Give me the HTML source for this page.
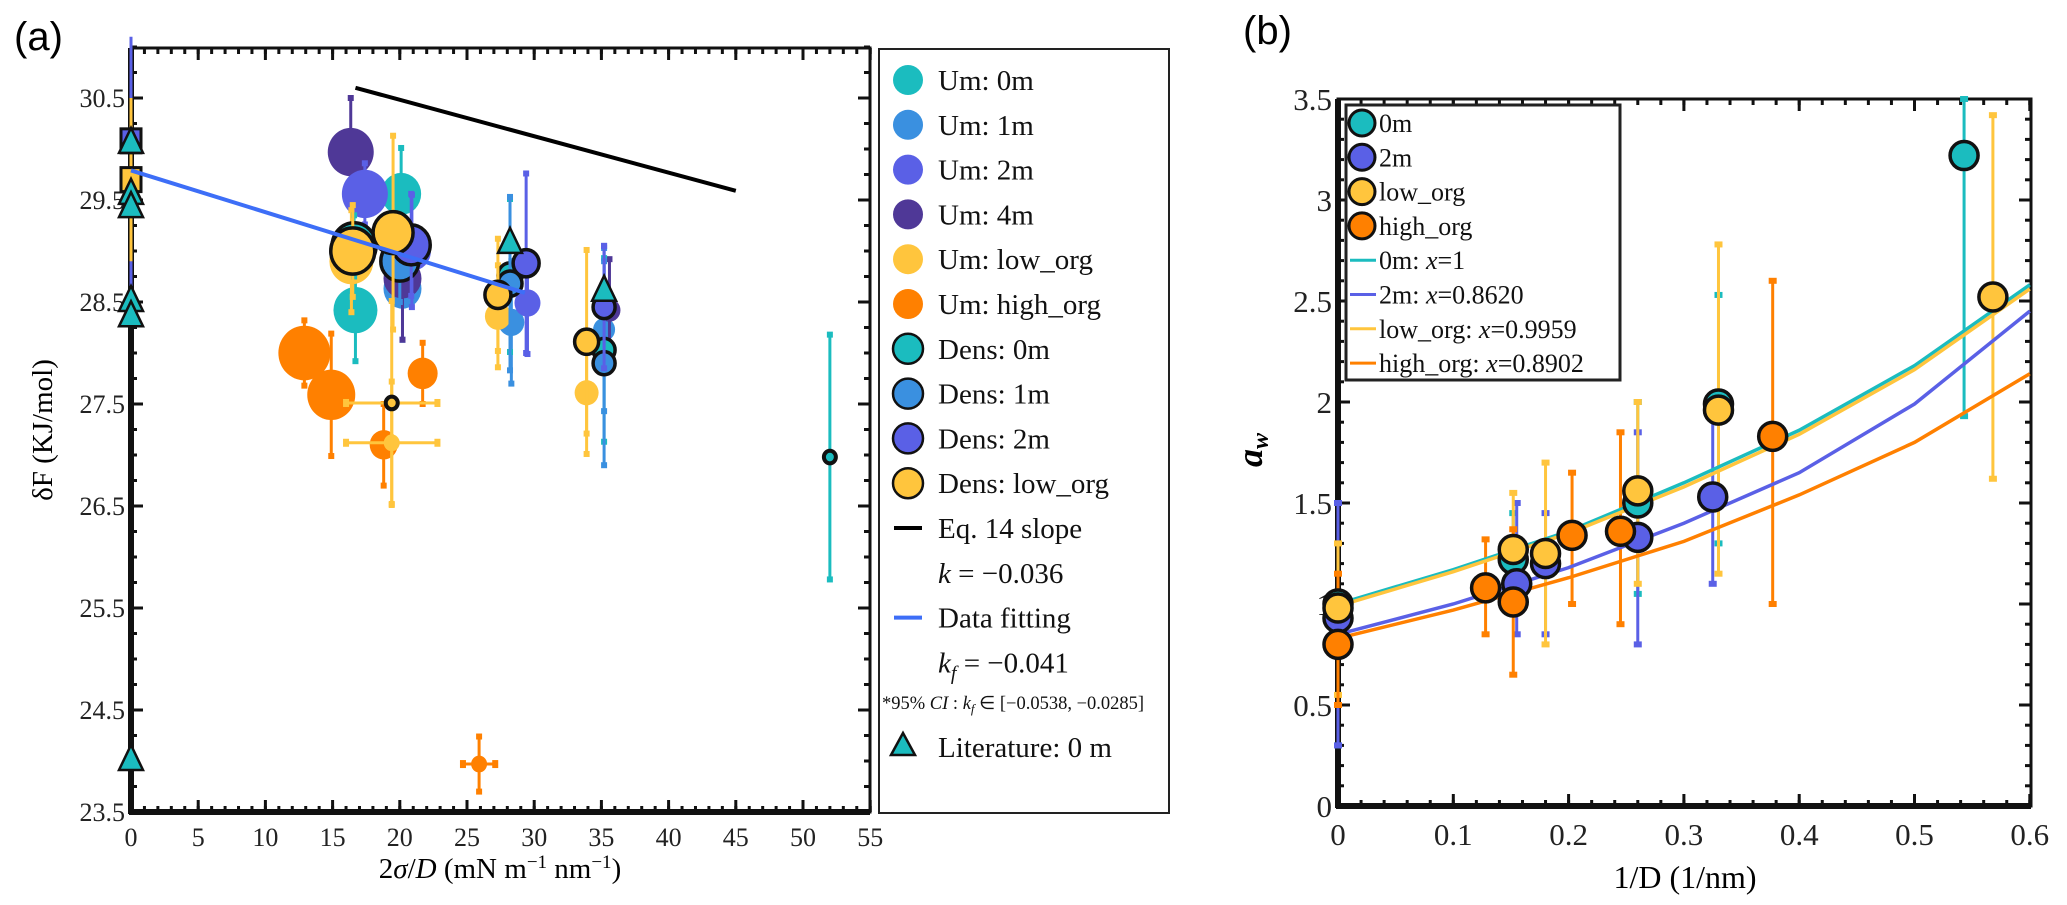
<!DOCTYPE html>
<html><head><meta charset="utf-8"><style>
html,body{margin:0;padding:0;background:#fff;}
svg{display:block;font-family:"Liberation Serif",serif;}
</style></head><body>
<svg id="fig" width="2067" height="905" viewBox="0 0 2067 905" xmlns="http://www.w3.org/2000/svg">
<text x="14" y="50" font-family="Liberation Sans, sans-serif" font-size="40">(a)</text>
<text x="1243" y="44" font-family="Liberation Sans, sans-serif" font-size="40">(b)</text>
<g id="pa"></g>
<g id="pb"></g>
<text x="500" y="878" font-size="29" text-anchor="middle">2<tspan font-style="italic">σ</tspan>/<tspan font-style="italic">D</tspan> (mN m<tspan baseline-shift="super" font-size="19">−1</tspan> nm<tspan baseline-shift="super" font-size="19">−1</tspan>)</text>
<text transform="translate(52,430) rotate(-90)" font-size="29" text-anchor="middle">δF (KJ/mol)</text>
<text x="1685" y="888" font-size="32" text-anchor="middle">1/D (1/nm)</text>
<text transform="translate(1262,450) rotate(-90)" font-size="36" font-weight="bold" font-style="italic" text-anchor="middle">a<tspan font-size="24" dy="6">w</tspan></text>
<g id="lega"></g>
<g id="legb"></g>
</svg>
<script>
// ---------- Panel (a) data ----------
const aXTicks=[0,5,10,15,20,25,30,35,40,45,50,55];
const aYTicks=[23.5,24.5,25.5,26.5,27.5,28.5,29.5,30.5];
const um0mX=[20.1,16.7], um0mY=[29.56,28.42], um0mE=[0.45,0.5];
const um1mX=[20.2,28.3,35.2], um1mY=[28.63,28.3,28.23], um1mE=[0.5,0.6,0.8];
const um2mX=[17.4,20.9,29.5,35.2], um2mY=[29.56,29.0,28.49,28.45], um2mE=[0.3,0.55,0.5,0.6];
const um4mX=[16.35,20.2,35.6], um4mY=[29.97,28.73,28.42], um4mE=[0.53,0.6,0.5];
const umLowX=[16.4,19.4,27.3,33.9], umLowY=[28.9,27.12,28.36,27.61], umLowE=[0.5,0.6,0.5,0.6], umLowXE=[0,3.4,0,0];
const umHighX=[12.9,14.9,21.7,18.8,25.9], umHighY=[28.0,27.59,27.8,27.1,23.97], umHighE=[0.32,0.6,0.3,0.4,0.27], umHighXE=[0,0,0,0,1.2];
const d0mX=[16.6,28.2,35.2,52], d0mY=[29.05,28.76,28.03,26.98], d0mE=[0.3,0.75,0.9,1.2];
const d1mX=[20.0,28.2,35.2], d1mY=[28.9,28.68,27.9], d1mE=[0.4,0.85,1.0];
const d2mX=[20.85,29.4,35.2], d2mY=[29.06,28.88,28.45], d2mE=[0.5,0.88,0.6];
const dLowX=[16.5,19.5,27.3,33.9,19.4], dLowY=[29.0,29.18,28.57,28.11,27.51], dLowE=[0.45,0.95,0.55,0.9,1.0], dLowXE=[0,0,0,0,3.4];
const litX=[0,0,0,0,0,0,28.2,35.2], litY=[30.05,29.55,29.42,28.5,28.35,24.0,29.07,28.6];
const eqLineX=[16.7,45], eqLineY=[30.6,29.59];
const fitLineX=[0,29.3], fitLineY=[29.79,28.59];
// ---------- Panel (b) data ----------
const bXTicks=[0,0.1,0.2,0.3,0.4,0.5,0.6];
const bYTicks=[0,0.5,1,1.5,2,2.5,3,3.5];
const b0mX=[0,0.152,0.26,0.33,0.543], b0mY=[1.0,1.22,1.5,1.99,3.22], b0mLo=[0.3,1.0,1.05,1.3,1.93], b0mHi=[1.5,1.45,2.0,2.53,3.6];
const b2mX=[0,0.155,0.18,0.26,0.325], b2mY=[0.93,1.1,1.2,1.33,1.53], b2mLo=[0.3,0.85,0.85,0.8,1.1], b2mHi=[1.5,1.5,1.45,1.85,2.0];
const bLowX=[0,0.152,0.18,0.26,0.33,0.568], bLowY=[0.98,1.27,1.25,1.56,1.96,2.52], bLowLo=[0.55,0.95,0.8,1.1,1.15,1.62], bLowHi=[1.3,1.55,1.7,2.0,2.78,3.42];
const bHighX=[0,0.128,0.152,0.203,0.245,0.377], bHighY=[0.8,1.08,1.01,1.34,1.36,1.83], bHighLo=[0.5,0.85,0.65,1.0,0.9,1.0], bHighHi=[1.15,1.32,1.37,1.65,1.85,2.6];
const curveX=[0,0.1,0.2,0.3,0.4,0.5,0.6];
const c0m=[1.0,1.17,1.36,1.6,1.86,2.18,2.58];
const c2m=[0.85,1.0,1.18,1.4,1.65,1.99,2.45];
const cLow=[0.99,1.16,1.35,1.58,1.84,2.16,2.56];
const cHigh=[0.83,0.97,1.13,1.31,1.54,1.8,2.14];

const C={c0:'#1BBCBF',c1:'#3A90E0',c2:'#5A60E6',c4:'#4F3897',low:'#FFC53D',high:'#FF8000',fit:'#3D6EF7'};
const NS='http://www.w3.org/2000/svg';
function mk(tag,attrs,parent){const e=document.createElementNS(NS,tag);for(const k in attrs)e.setAttribute(k,attrs[k]);parent.appendChild(e);return e;}

// axes
const ax=v=>131+13.44*v, ay=v=>812-102*(v-23.5);
const bx=v=>1338+1153*v, by=v=>806-202*v;
const pa=document.getElementById('pa'), pb=document.getElementById('pb');

function frame(g,L,T,R,B,xt,yt,xminor,yminor,X,Y,fs,fmtx,fmty,nm){
  // minor ticks
  xminor.forEach(v=>{const p=X(v);
    let t=mk('line',{x1:p,y1:B,x2:p,y2:B-6,stroke:'#111','stroke-width':3},g);
    
    
    let t2=mk('line',{x1:p,y1:T,x2:p,y2:T+6,stroke:'#111','stroke-width':3},g);
    
    });
  yminor.forEach(v=>{const p=Y(v);
    let t=mk('line',{x1:L,y1:p,x2:L+6,y2:p,stroke:'#111','stroke-width':3},g);
    
    
    let t2=mk('line',{x1:R,y1:p,x2:R-6,y2:p,stroke:'#111','stroke-width':3},g);
    
    });
  xt.forEach(v=>{const p=X(v);
    let t=mk('line',{x1:p,y1:B,x2:p,y2:B-12,stroke:'#111','stroke-width':3},g);
    
    
    let t2=mk('line',{x1:p,y1:T,x2:p,y2:T+12,stroke:'#111','stroke-width':3},g);
    
    
    let l=mk('text',{x:p,y:B+fs+8,'font-size':fs,'text-anchor':'middle',fill:'#222'},g);l.textContent=fmtx(v);
    
    });
  yt.forEach(v=>{const p=Y(v);
    let t=mk('line',{x1:L,y1:p,x2:L+12,y2:p,stroke:'#111','stroke-width':3},g);
    
    
    let t2=mk('line',{x1:R,y1:p,x2:R-12,y2:p,stroke:'#111','stroke-width':3},g);
    
    
    let l=mk('text',{x:L-6,y:p+fs*0.35,'font-size':fs,'text-anchor':'end',fill:'#222'},g);l.textContent=fmty(v);
    
    });
  let f=mk('rect',{x:L,y:T,width:R-L,height:B-T,fill:'none',stroke:'#111','stroke-width':3},g);
  
  
  let la=mk('line',{x1:L,y1:T,x2:L,y2:B+2,stroke:'#111','stroke-width':6},g);
  
  
  let ba=mk('line',{x1:L-2,y1:B,x2:R,y2:B,stroke:'#111','stroke-width':6},g);
  
  
}
const range=(a,b,s)=>{const r=[];for(let v=a;v<=b+1e-9;v+=s)r.push(+v.toFixed(4));return r;};

// ---- Panel a ----
frame(pa,131,48,870,812,aXTicks,aYTicks,range(0,55,1),range(23.5,31,0.25),ax,ay,26,v=>String(v),v=>v.toFixed(1),'a');

const pag=mk('g',{},pa);


// vertical error bars at x=0 (behind)
let eb0=mk('line',{x1:ax(0),y1:ay(31.1),x2:ax(0),y2:ay(28.4),stroke:C.c2,'stroke-width':3},pag);


let eb1=mk('line',{x1:ax(0),y1:ay(30.5),x2:ax(0),y2:ay(28.9),stroke:C.low,'stroke-width':3},pag);


let sq1=mk('rect',{x:ax(0)-10,y:ay(30.08)-12,width:20,height:24,fill:C.c2,stroke:'#111','stroke-width':3},pag);


let sq2=mk('rect',{x:ax(0)-10,y:ay(29.7)-12,width:20,height:24,fill:C.low,stroke:'#111','stroke-width':3},pag);



function seriesA(name,xs,ys,es,xes,col,outline,sizes){
  xs.forEach((x,i)=>{
    const cx=ax(x), cy=ay(ys[i]);
    if(es&&es[i]){
      let e=mk('line',{x1:cx,y1:ay(ys[i]+es[i]),x2:cx,y2:ay(ys[i]-es[i]),stroke:col,'stroke-width':3},pag);
      
      
      [ys[i]+es[i],ys[i]-es[i]].forEach(v=>{let c=mk('rect',{x:cx-3,y:ay(v)-3,width:6,height:6,fill:col},pag);
        
        });
    }
    if(xes&&xes[i]){
      let e=mk('line',{x1:ax(x-xes[i]),y1:cy,x2:ax(x+xes[i]),y2:cy,stroke:col,'stroke-width':3},pag);
      
      
      [x-xes[i],x+xes[i]].forEach(v=>{let c=mk('rect',{x:ax(v)-3,y:cy-4,width:6,height:8,fill:col},pag);
        
        });
    }
  });
  xs.forEach((x,i)=>{
    const r=sizes[i];
    let c=mk('ellipse',{cx:ax(x),cy:ay(ys[i]),rx:r,ry:r*1.05,fill:col,stroke:outline?'#111':'none','stroke-width':outline?(r<8?4:3.5):0},pag);
    
    
  });
}
seriesA('um-high-org',umHighX,umHighY,umHighE,umHighXE,C.high,false,[26,24,15,14,8]);
seriesA('um-0m',um0mX,um0mY,um0mE,null,C.c0,false,[20,22]);
seriesA('um-1m',um1mX,um1mY,um1mE,null,C.c1,false,[19,13,11]);
seriesA('um-4m',um4mX,um4mY,um4mE,null,C.c4,false,[23,19,11]);
seriesA('um-2m',um2mX,um2mY,um2mE,null,C.c2,false,[23,19,13,11]);
seriesA('um-low-org',umLowX,umLowY,umLowE,umLowXE,C.low,false,[22,8,13,12]);
// lines
let eq=mk('line',{x1:ax(eqLineX[0]),y1:ay(eqLineY[0]),x2:ax(eqLineX[1]),y2:ay(eqLineY[1]),stroke:'#000','stroke-width':4},pag);


seriesA('dens-0m',d0mX,d0mY,d0mE,null,C.c0,true,[22,12,11,6]);
seriesA('dens-1m',d1mX,d1mY,d1mE,null,C.c1,true,[19,12,11]);
seriesA('dens-2m',d2mX,d2mY,d2mE,null,C.c2,true,[19,13,11]);
seriesA('dens-low-org',dLowX,dLowY,dLowE,dLowXE,C.low,true,[22,20,13,12,6]);
let fit=mk('line',{x1:ax(fitLineX[0]),y1:ay(fitLineY[0]),x2:ax(fitLineX[1]),y2:ay(fitLineY[1]),stroke:C.fit,'stroke-width':4},pag);


litX.forEach((x,i)=>{const cx=ax(x),cy=ay(litY[i]);
  let t=mk('polygon',{points:`${cx},${cy-16} ${cx-12},${cy+9} ${cx+12},${cy+9}`,fill:C.c0,stroke:'#111','stroke-width':2.5},pag);
  
  });

// ---- Legend a ----
const lg=document.getElementById('lega');
let lbox=mk('rect',{x:879,y:49,width:290,height:764,fill:'#fff',stroke:'#222','stroke-width':2},lg);


const legA=[['Um:  0m',C.c0,'dot'],['Um:  1m',C.c1,'dot'],['Um:  2m',C.c2,'dot'],['Um:  4m',C.c4,'dot'],['Um:  low_org',C.low,'dot'],['Um:  high_org',C.high,'dot'],['Dens:  0m',C.c0,'odot'],['Dens:  1m',C.c1,'odot'],['Dens:  2m',C.c2,'odot'],['Dens:  low_org',C.low,'odot'],['Eq.  14 slope','#000','line'],['k = −0.036','','k'],['Data fitting',C.fit,'line'],['kf = −0.041','','kf']];
legA.forEach((d,i)=>{const y=80+44.8*i;
  if(d[2]==='dot'||d[2]==='odot'){let c=mk('circle',{cx:908,cy:y,r:15,fill:d[1],stroke:d[2]==='odot'?'#111':'none','stroke-width':2.5},lg);
    
    }
  if(d[2]==='line'){let c=mk('line',{x1:894,y1:y,x2:922,y2:y,stroke:d[1],'stroke-width':4},lg);
    
    }
  let t=mk('text',{x:938,y:y+10,'font-size':29,fill:'#111'},lg);
  if(d[2]==='k'){t.innerHTML='<tspan font-style="italic">k</tspan> = −0.036';}
  else if(d[2]==='kf'){t.innerHTML='<tspan font-style="italic">k<tspan font-size="20" dy="7">f</tspan></tspan><tspan dy="-7"> = −0.041</tspan>';}
  else t.textContent=d[0];
  
  });
let ci=mk('text',{x:882,y:709,'font-size':18.5,fill:'#111'},lg);
ci.innerHTML='*95% <tspan font-style="italic">CI</tspan> : <tspan font-style="italic">k<tspan font-size="13" dy="4">f</tspan></tspan><tspan dy="-4"> ∈ [−0.0538, −0.0285]</tspan>';


let lt=mk('polygon',{points:'903,733 891,755 915,755',fill:C.c0,stroke:'#111','stroke-width':2.5},lg);


let ltt=mk('text',{x:938,y:757,'font-size':29,fill:'#111'},lg);ltt.textContent='Literature:  0 m';



// ---- Panel b ----
frame(pb,1338,99,2031,806,bXTicks,bYTicks,range(0,0.6,0.02),range(0,3.5,0.1),bx,by,31,v=>String(v),v=>String(v),'b');
const pbg=mk('g',{},pb);


function errB(name,xs,lo,hi,col){xs.forEach((x,i)=>{
  const top=Math.min(hi[i],3.5);
  let e=mk('line',{x1:bx(x),y1:by(lo[i]),x2:bx(x),y2:by(top),stroke:col,'stroke-width':3},pbg);
  
  
  [lo[i],top].forEach(v=>{let c=mk('rect',{x:bx(x)-4,y:by(v)-3,width:8,height:6,fill:col},pbg);
    
    });});}
function curveB(name,ys,col){
  let p=mk('polyline',{points:curveX.map((x,i)=>bx(x)+','+by(ys[i])).join(' '),fill:'none',stroke:col,'stroke-width':3.5},pbg);
  
  }
function ptsB(name,xs,ys,col){xs.forEach((x,i)=>{
  let c=mk('circle',{cx:bx(x),cy:by(ys[i]),r:14,fill:col,stroke:'#111','stroke-width':3.5},pbg);
  
  });}
errB('b-0m',b0mX,b0mLo,b0mHi,C.c0);
errB('b-2m',b2mX,b2mLo,b2mHi,C.c2);
errB('b-low-org',bLowX,bLowLo,bLowHi,C.low);
errB('b-high-org',bHighX,bHighLo,bHighHi,C.high);
curveB('b-0m',c0m,C.c0);curveB('b-2m',c2m,C.c2);curveB('b-high-org',cHigh,C.high);curveB('b-low-org',cLow,C.low);
ptsB('b-0m',b0mX,b0mY,C.c0);ptsB('b-2m',b2mX,b2mY,C.c2);ptsB('b-low-org',bLowX,bLowY,C.low);ptsB('b-high-org',bHighX,bHighY,C.high);

// ---- Legend b ----
const lb=document.getElementById('legb');
let bbox=mk('rect',{x:1346,y:105,width:274,height:275,fill:'#fff',stroke:'#222','stroke-width':3},lb);


const legB=[['0m',C.c0,'dot'],['2m',C.c2,'dot'],['low_org',C.low,'dot'],['high_org',C.high,'dot'],['0m:  ',C.c0,'line','1'],['2m:  ',C.c2,'line','0.8620'],['low_org:  ',C.low,'line','0.9959'],['high_org:  ',C.high,'line','0.8902']];
legB.forEach((d,i)=>{const y=123+34.3*i;
  if(d[2]==='dot'){let c=mk('circle',{cx:1362,cy:y,r:13,fill:d[1],stroke:'#111','stroke-width':3},lb);
    
    }
  else{let c=mk('line',{x1:1350,y1:y,x2:1376,y2:y,stroke:d[1],'stroke-width':3},lb);
    
    }
  let t=mk('text',{x:1379,y:y+9,'font-size':26,fill:'#111'},lb);
  if(d[2]==='line')t.innerHTML=d[0]+'<tspan font-style="italic">x</tspan>='+d[3];else t.textContent=d[0];
  
  });
</script>
</body></html>
